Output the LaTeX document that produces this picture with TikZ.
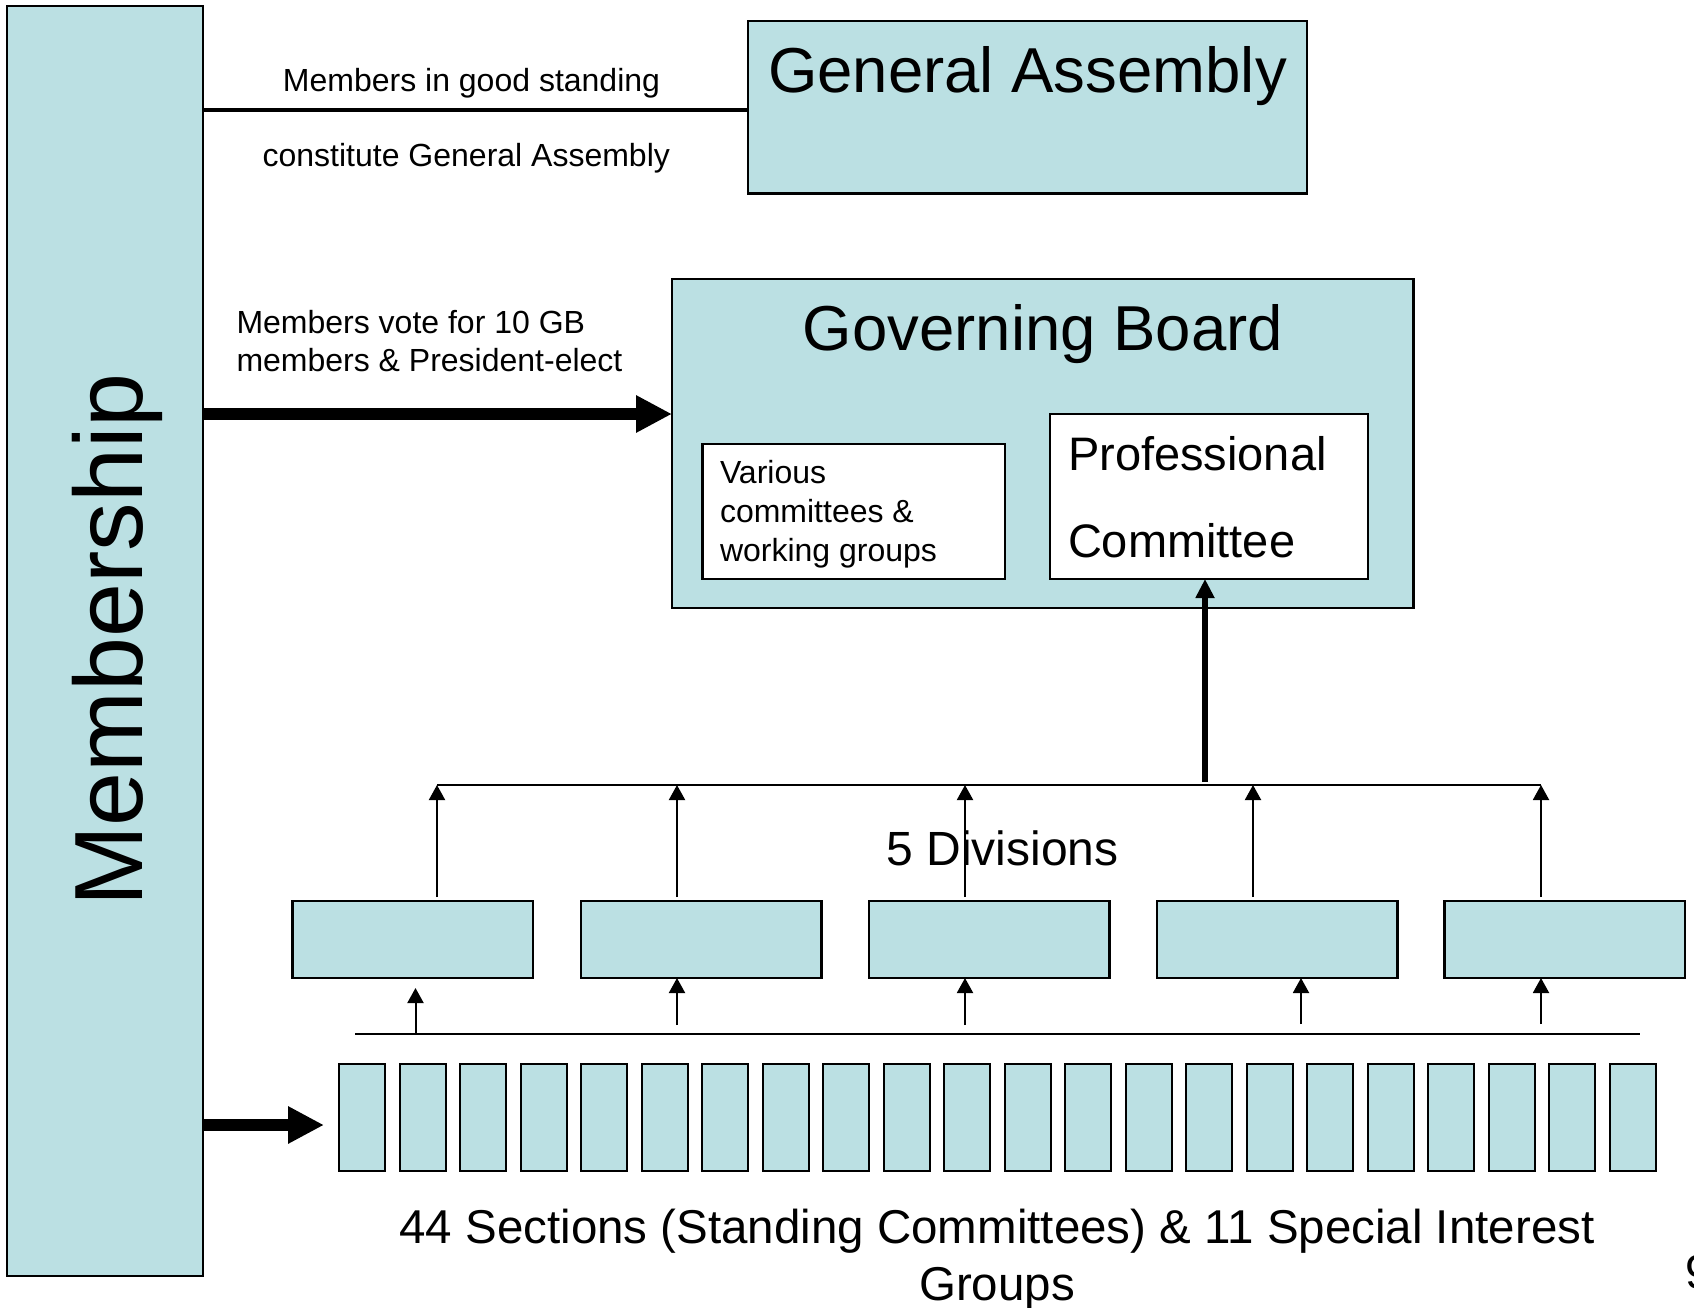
\documentclass[tikz,border=0pt]{standalone}
\usepackage{fontspec}
\setmainfont{Liberation Sans}
\usetikzlibrary{arrows.meta}
\definecolor{tealfill}{RGB}{187,224,227}
\newcommand{\fs}[1]{\fontsize{#1}{1.2\dimexpr#1pt\relax}\selectfont}
\begin{document}
\begin{tikzpicture}[x=1pt,y=-1pt,
  tealbox/.style={draw=black,fill=tealfill,line width=2.5pt,inner sep=0pt,outer sep=0pt,anchor=north west},
  whitebox/.style={draw=black,fill=white,line width=2.5pt,inner sep=0pt,outer sep=0pt,anchor=north west},
  lbl/.style={inner sep=0pt,outer sep=0pt},
  thinline/.style={line width=2pt},
  thinarrow/.style={line width=2pt,-{Triangle[length=15pt,width=16pt]}},
  fatarrow/.style={line width=11.5pt,-{Triangle[length=36pt,width=35pt]}},
  midarrow/.style={line width=6pt,-{Triangle[length=19pt,width=18pt]}}]
\useasboundingbox (0,0) rectangle (1694,1308);
% Membership
\node[tealbox,minimum width=196pt,minimum height=1270pt] (mem) at (7,6) {};
\node[lbl,rotate=90,anchor=base] (memtxt) at (142,640) {\fs{97}Membership};
% General Assembly
\node[tealbox,minimum width=559pt,minimum height=172.5pt] (ga) at (748,21) {};
\node[lbl,anchor=base] (gatxt) at (1027.5,92.7) {\fs{63.5}General Assembly};
% Governing Board
\node[tealbox,minimum width=741.5pt,minimum height=329pt] (gb) at (672,279) {};
\node[lbl,anchor=base] (gbtxt) at (1043,350) {\fs{63.5}Governing Board};
\node[whitebox,minimum width=302.5pt,minimum height=135pt] (var) at (702.5,444) {};
\node[lbl,anchor=base west,align=left,font={\fontsize{32}{39}\selectfont}] (vartxt) at (720,561.5) {Various\\committees \&\\working groups};
\node[whitebox,minimum width=318pt,minimum height=165pt] (prof) at (1050,414) {};
\node[lbl,anchor=base west,align=left,font={\fontsize{47}{87}\selectfont}] (proftxt) at (1068,557) {Professional\\Committee};
% labels on the left
\node[lbl,anchor=base] (l1) at (471.5,91.5) {\fs{32}Members in good standing};
\node[lbl,anchor=base] (l2) at (466.3,166.7) {\fs{32}constitute General Assembly};
\node[lbl,anchor=base west,align=left,font={\fontsize{32}{38.7}\selectfont}] (l3) at (236.5,371.7) {Members vote for 10 GB\\members \& President-elect};
% connectors from membership
\draw[line width=3.5pt] (mem.east |- 0,110) -- (ga.west |- 0,110);
\draw[fatarrow] (mem.east |- 0,414) -- (gb.west |- 0,414);
% divisions
\foreach \i/\x in {1/292.6,2/580.8,3/869,4/1157,5/1444.3}{
  \node[tealbox,minimum width=240.5pt,minimum height=77pt] (d\i) at (\x,901) {};
}
\node[lbl,anchor=base west] (divtxt) at (886.5,865) {\fs{48}5 Divisions};
\coordinate (b1) at (437,785);
\coordinate (b2) at (677,785);
\coordinate (b3) at (965,785);
\coordinate (bm) at (1205,785);
\coordinate (b4) at (1253,785);
\coordinate (b5) at (1541,785);
\draw[thinline] (b1) -- (b5);
\draw[midarrow] ([yshift=3pt]bm) -- (prof.south -| bm);
\draw[thinarrow] (d1.north -| b1) ++(0,-4) -- (b1);
\draw[thinarrow] (d2.north -| b2) ++(0,-4) -- (b2);
\draw[thinarrow] (d3.north -| b3) ++(0,-4) -- (b3);
\draw[thinarrow] (d4.north -| b4) ++(0,-4) -- (b4);
\draw[thinarrow] (d5.north -| b5) ++(0,-4) -- (b5);
% sections
\foreach \i in {0,...,21}{
  \node[tealbox,line width=2pt,minimum width=46pt,minimum height=106.5pt] (s\i) at ({339+60.5*\i},1064) {};
}
\coordinate (sl) at (355,1034);
\coordinate (sr) at (1640,1034);
\draw[thinline] (sl) -- (sr);
\coordinate (secin) at (324,1125);
\draw[fatarrow] (mem.east |- secin) -- (secin);
% arrows from sections line to divisions
\coordinate (u1) at (415.5,1034);
\draw[thinarrow] (u1) -- (415.5,988);
\coordinate (u2) at (677,1025);
\coordinate (u3) at (965,1025);
\coordinate (u4) at (1301,1024);
\coordinate (u5) at (1541,1024);
\draw[thinarrow] (u2) -- (d2.south -| u2);
\draw[thinarrow] (u3) -- (d3.south -| u3);
\draw[thinarrow] (u4) -- (d4.south -| u4);
\draw[thinarrow] (u5) -- (d5.south -| u5);
% bottom text
\node[lbl,anchor=base,align=center,font={\fontsize{47.5}{57}\selectfont}] (sectxt) at (997,1300) {44 Sections (Standing Committees) \& 11 Special Interest\\Groups};
\node[lbl,anchor=base west] (pgnum) at (1685,1288) {\fs{47.5}9};
\end{tikzpicture}
\end{document}
